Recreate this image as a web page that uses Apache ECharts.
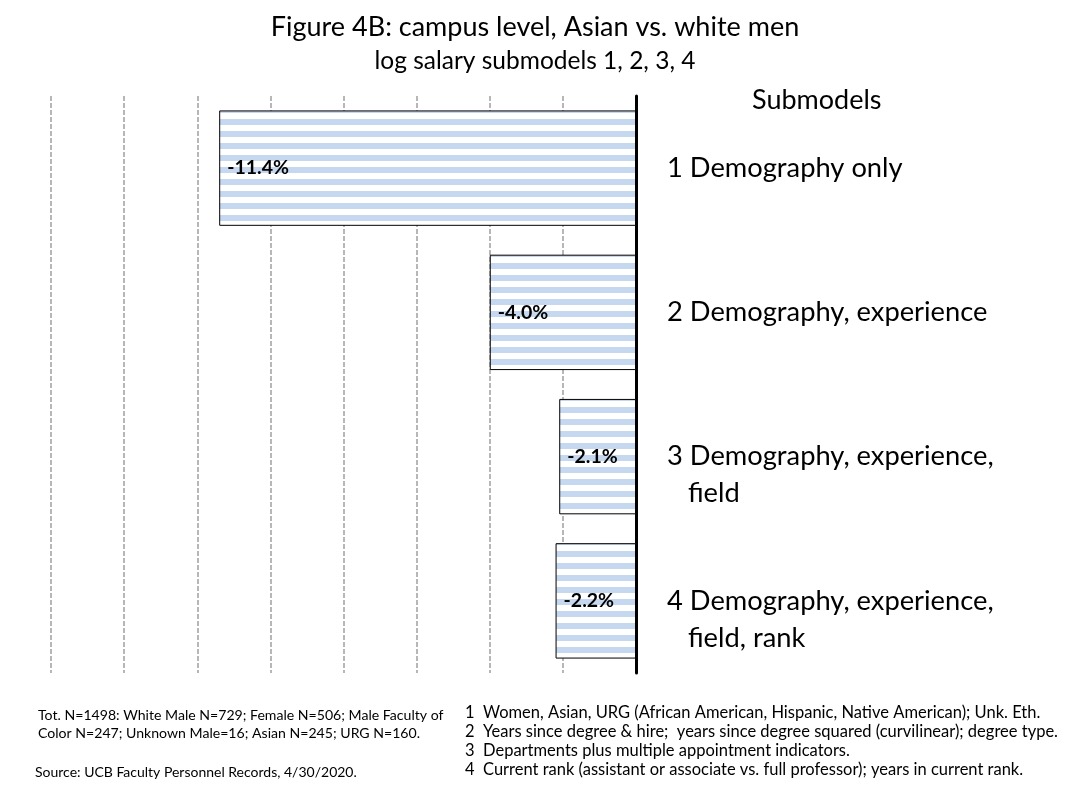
<!DOCTYPE html>
<html>
<head>
<meta charset="utf-8">
<script src="https://cdn.jsdelivr.net/npm/echarts@6/dist/echarts.min.js"></script>
<style>html,body{margin:0;padding:0;background:#fff}#c{width:1070px;height:787px}</style>
</head>
<body>
<div id="c"></div>
<script>
const categories = [
  "1 Demography only",
  "2 Demography, experience",
  "3 Demography, experience,\n   field",
  "4 Demography, experience,\n   field, rank"
];
const values = [-11.4, -4.0, -2.1, -2.2];
const valueLabels = ["-11.4%", "-4.0%", "-2.1%", "-2.2%"];
const axisMin = -16, axisMax = 0, axisInterval = 2;
const titleText = "Figure 4B: campus level, Asian vs. white men";
const subtitleText = "log salary submodels 1, 2, 3, 4";
const legendHeader = "Submodels";
const notesLeft = [
  "Tot. N=1498: White Male N=729; Female N=506; Male Faculty of",
  "Color N=247; Unknown Male=16; Asian N=245; URG N=160."
];
const sourceText = "Source: UCB Faculty Personnel Records, 4/30/2020.";
const notesRight = [
  "1  Women, Asian, URG (African American, Hispanic, Native American); Unk. Eth.",
  "2  Years since degree & hire;  years since degree squared (curvilinear); degree type.",
  "3  Departments plus multiple appointment indicators.",
  "4  Current rank (assistant or associate vs. full professor); years in current rank."
];

const FONT = 'Lato, "Open Sans", sans-serif';

// striped fill pattern
const pc = document.createElement('canvas');
pc.width = 12; pc.height = 12;
const pctx = pc.getContext('2d');
pctx.fillStyle = '#ffffff'; pctx.fillRect(0,0,12,12);
pctx.fillStyle = '#c5d8ef';
pctx.fillRect(0,0,12,5);
pctx.fillRect(0,11,12,1);

const chart = echarts.init(document.getElementById('c'), null, {renderer:'canvas'});
const option = {
  backgroundColor: '#ffffff',
  animation: false,
  title: {
    text: titleText,
    subtext: subtitleText,
    left: 'center',
    top: 9,
    itemGap: 8,
    textStyle: {fontFamily: FONT, fontSize: 27, fontWeight: 'normal', color: '#000'},
    subtextStyle: {fontFamily: FONT, fontSize: 24.5, color: '#000'}
  },
  grid: {left: 51, right: 434, top: 96, bottom: 114, containLabel: false},
  xAxis: {
    type: 'value', min: axisMin, max: axisMax, interval: axisInterval,
    axisLine: {show: false}, axisTick: {show: false}, axisLabel: {show: false},
    splitLine: {show: true, lineStyle: {color: '#a0a0a0', width: 1.5, type: [5, 2]}}
  },
  yAxis: {
    type: 'category', data: categories, inverse: true, position: 'right',
    axisLine: {show: true, onZero: false, lineStyle: {color: '#000', width: 3}},
    axisTick: {show: false},
    axisLabel: {
      margin: 31, align: 'left', verticalAlign: 'middle',
      fontFamily: FONT, fontSize: 27.3, color: '#000', lineHeight: 37,
      formatter: function (v) {
        return v.indexOf('\n') >= 0 ? '\u00a0\n' + v : v;
      }
    },
    splitLine: {show: false}
  },
  series: [{
    type: 'bar',
    data: values,
    barCategoryGap: '20%',
    itemStyle: {
      color: {image: pc, repeat: 'repeat'},
      borderColor: '#000', borderWidth: 1
    },
    label: {
      show: true, position: 'insideLeft', distance: 8,
      fontFamily: FONT, fontSize: 19.5, fontWeight: 'bold', color: '#000',
      formatter: function (p) { return valueLabels[p.dataIndex]; }
    }
  }],
  graphic: [
    {type: 'text', left: 752, top: 87, style: {text: legendHeader, fontFamily: FONT, fontSize: 27, fill: '#000'}},
    {type: 'text', left: 38, top: 706, style: {text: notesLeft.join('\n'), fontFamily: FONT, fontSize: 14.1, lineHeight: 18, fill: '#000'}},
    {type: 'text', left: 35, top: 765, style: {text: sourceText, fontFamily: FONT, fontSize: 14, fill: '#000'}},
    {type: 'text', left: 465, top: 703, style: {text: notesRight.join('\n'), fontFamily: FONT, fontSize: 16.5, lineHeight: 19, fill: '#000'}}
  ]
};
chart.setOption(option);
</script>
</body>
</html>
